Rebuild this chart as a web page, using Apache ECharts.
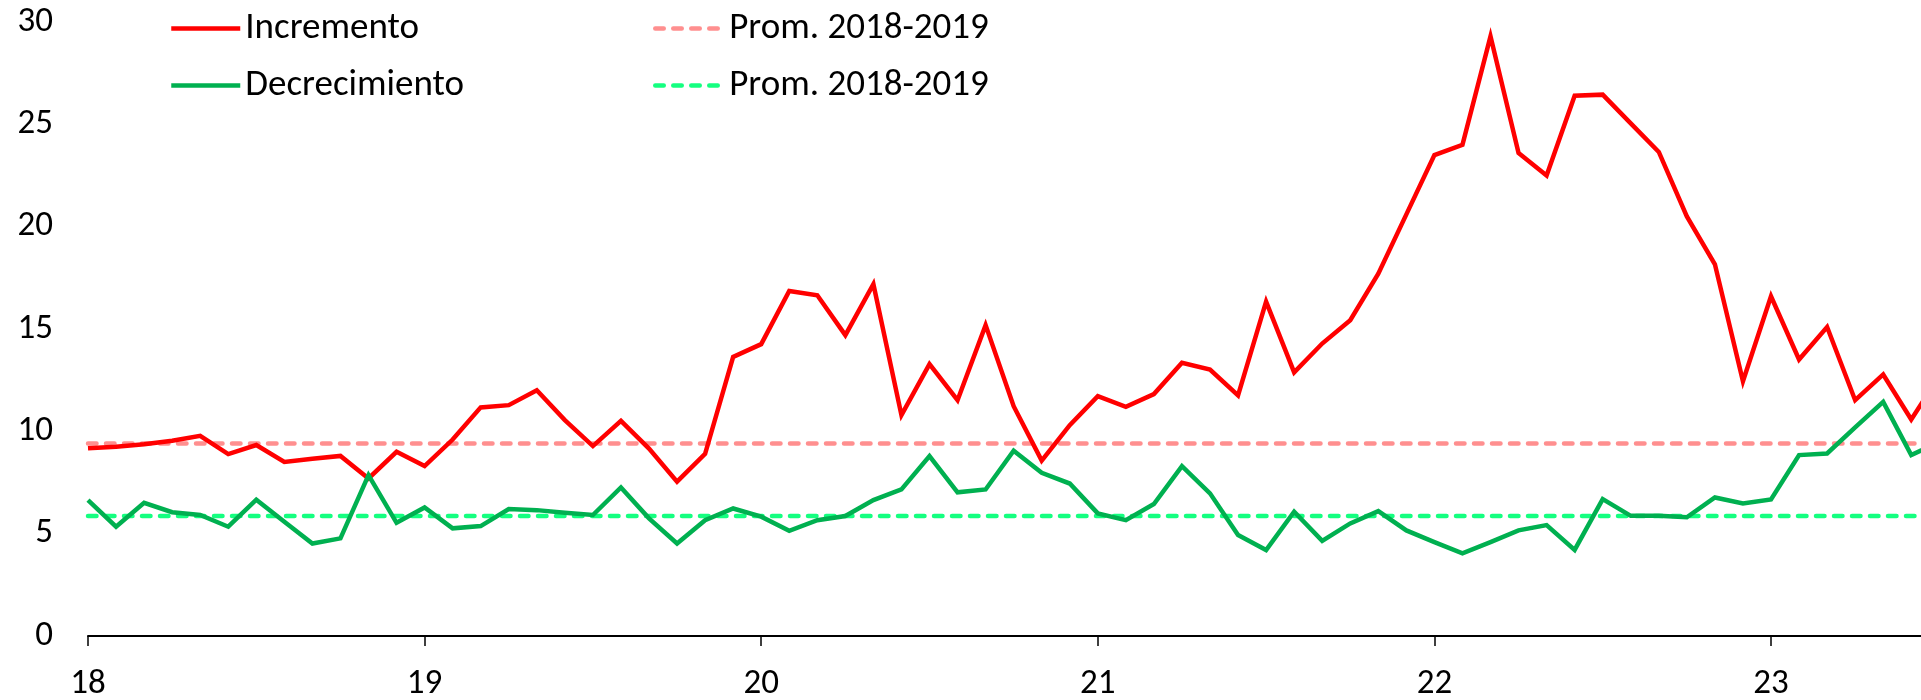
<!DOCTYPE html>
<html>
<head>
<meta charset="utf-8">
<script src="https://cdn.jsdelivr.net/npm/echarts@6/dist/echarts.min.js"></script>
<style>
  html, body { margin: 0; padding: 0; background: #fff; }
  #chart { width: 1921px; height: 700px; }
</style>
</head>
<body>
<div id="chart"></div>
<script>
// ---- Data (monthly, starting Jan 2018) ----
const startYear = 18;
const xTickLabels = [18, 19, 20, 21, 22, 23];

const incremento = [
  9.17, 9.25, 9.37, 9.54, 9.78, 8.89, 9.33, 8.50, 8.66, 8.80, 7.70, 9.00,
  8.30, 9.60, 11.17, 11.28, 12.01, 10.55, 9.28, 10.51, 9.16, 7.54, 8.90, 13.64,
  14.26, 16.86, 16.65, 14.70, 17.19, 10.79, 13.28, 11.52, 15.19, 11.23, 8.57, 10.30,
  11.72, 11.20, 11.82, 13.35, 13.02, 11.75, 16.34, 12.88, 14.29, 15.43, 17.70, 20.60,
  23.50, 24.00, 29.30, 23.60, 22.50, 26.40, 26.45, 25.05, 23.65, 20.50, 18.16, 12.45,
  16.60, 13.51, 15.10, 11.52, 12.78, 10.58, 12.70
];

const decrecimiento = [
  6.64, 5.34, 6.51, 6.05, 5.91, 5.34, 6.66, 5.58, 4.52, 4.77, 7.86, 5.53,
  6.28, 5.26, 5.37, 6.20, 6.15, 6.02, 5.91, 7.26, 5.75, 4.52, 5.66, 6.23,
  5.83, 5.14, 5.66, 5.86, 6.64, 7.16, 8.79, 7.02, 7.16, 9.05, 7.97, 7.45,
  5.99, 5.66, 6.45, 8.30, 6.97, 4.93, 4.20, 6.07, 4.65, 5.50, 6.10, 5.16,
  4.59, 4.04, 4.59, 5.16, 5.42, 4.21, 6.69, 5.87, 5.88, 5.80, 6.77, 6.48,
  6.67, 8.84, 8.92, 10.19, 11.44, 8.84, 9.49
];

const promIncremento = 9.41;
const promDecrecimiento = 5.86;

// position of each month on the value axis (year fraction)
const xPos = i => startYear + i / 12;

const incData = incremento.map((v, i) => [xPos(i), v]);
const decData = decrecimiento.map((v, i) => [xPos(i), v]);
const nMonths = Math.max(incremento.length, decrecimiento.length);
const promIncData = [[xPos(0), promIncremento], [xPos(nMonths - 1), promIncremento]];
const promDecData = [[xPos(0), promDecrecimiento], [xPos(nMonths - 1), promDecrecimiento]];

const FONT = "Carlito, Lato, 'Liberation Sans', sans-serif";
const FS = 35;

const chart = echarts.init(document.getElementById('chart'), null, { renderer: 'canvas' });

const legendText = { fontFamily: FONT, fontSize: 37, color: '#000' };
const legendCommon = {
  orient: 'vertical',
  top: 5,
  itemWidth: 69, itemHeight: 14, itemGap: 20,
  itemStyle: { opacity: 0 },
  lineStyle: { width: 4.5 },
  textStyle: legendText
};

chart.setOption({
  animation: false,
  backgroundColor: '#fff',
  grid: { left: 88, right: 0, top: 22, bottom: 64, containLabel: false, outerBoundsMode: 'none' },
  legend: [
    Object.assign({ data: ['Incremento', 'Decrecimiento'], left: 164 }, legendCommon),
    Object.assign({
      data: ['Prom. 2018-2019 (I)', 'Prom. 2018-2019 (D)'],
      formatter: name => name.replace(/ \([ID]\)$/, ''),
      left: 648
    }, legendCommon)
  ],
  xAxis: {
    type: 'value',
    min: 18,
    max: 18 + 1833 / 336.6,
    interval: 1,
    axisLine: { show: true, lineStyle: { color: '#000', width: 2 } },
    axisTick: { show: true, length: 10, lineStyle: { color: '#000', width: 1.5 }, customValues: xTickLabels },
    axisLabel: {
      customValues: xTickLabels,
      formatter: v => String(Math.round(v)),
      fontFamily: FONT, fontSize: FS, color: '#000', margin: 31
    },
    splitLine: { show: false }
  },
  yAxis: {
    type: 'value',
    min: 0, max: 30, interval: 5,
    axisLine: { show: false },
    axisTick: { show: false },
    splitLine: { show: false },
    axisLabel: { fontFamily: FONT, fontSize: FS, color: '#000', margin: 35 }
  },
  series: [
    {
      name: 'Incremento', type: 'line', data: incData,
      showSymbol: false, symbol: 'none', clip: true,
      lineStyle: { color: '#FF0000', width: 4.5, join: 'miter' },
      itemStyle: { color: '#FF0000' }, z: 4
    },
    {
      name: 'Decrecimiento', type: 'line', data: decData,
      showSymbol: false, symbol: 'none', clip: true,
      lineStyle: { color: '#00B050', width: 4.5, join: 'miter' },
      itemStyle: { color: '#00B050' }, z: 4
    },
    {
      name: 'Prom. 2018-2019 (I)', type: 'line', data: promIncData,
      showSymbol: false, symbol: 'none', clip: true,
      lineStyle: { color: '#FF8F8F', width: 4.5, type: [8.5, 9.5], cap: 'round' },
      itemStyle: { color: '#FF8F8F' }, z: 3
    },
    {
      name: 'Prom. 2018-2019 (D)', type: 'line', data: promDecData,
      showSymbol: false, symbol: 'none', clip: true,
      lineStyle: { color: '#14FF80', width: 4.5, type: [8.5, 9.5], cap: 'round' },
      itemStyle: { color: '#14FF80' }, z: 3
    }
  ]
});
</script>
</body>
</html>
